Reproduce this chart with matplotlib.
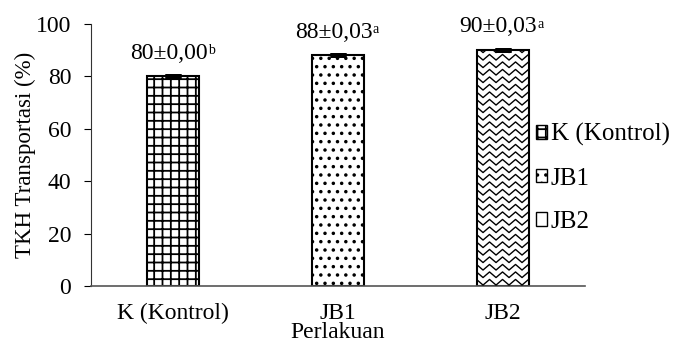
import numpy as np
import matplotlib
matplotlib.use("Agg")
import matplotlib.pyplot as plt

plt.rcParams['font.family'] = ['Liberation Serif', 'DejaVu Serif']
plt.rcParams['hatch.linewidth'] = 1.3

perlakuan = ['K (Kontrol)', 'JB1', 'JB2']
tkh = [80, 88, 90]
sd = [0.00, 0.03, 0.03]
notasi = ['b', 'a', 'a']
label_teks = ['80±0,00', '88±0,03', '90±0,03']
pola = ['++', '..', '']

fig = plt.figure(figsize=(6.77, 3.49), dpi=100)
ax = fig.add_axes([0.134, 0.1805, 0.73, 0.752])

x = np.arange(len(perlakuan))
bars = ax.bar(x, tkh, width=0.316, color='white', edgecolor='black',
              linewidth=1.5, zorder=2)
for b, h, lab in zip(bars, pola, perlakuan):
    b.set_hatch(h)
    b.set_label(lab)

ax.errorbar(x, tkh, yerr=sd, fmt='none', ecolor='black', capsize=6,
            capthick=3.5, elinewidth=1, zorder=4)

ax.set_xlim(-0.5, 2.5)
ax.set_ylim(0, 100)
ax.set_yticks([0, 20, 40, 60, 80, 100])

# zigzag fill for JB2 (no built-in wave hatch)
fig.canvas.draw()
inv = ax.transData.inverted()
p0 = inv.transform((0, 0))
p1 = inv.transform((1, 1))
dxpx = p1[0] - p0[0]
dypx = p1[1] - p0[1]
b = bars[2]
x0, x1 = b.get_x(), b.get_x() + b.get_width()
period = 13 * dxpx
amp = 2.8 * dypx
row = 7.5 * dypx
xs = np.arange(x0 - period, x1 + period, period / 2)
for yy in np.arange(row / 2, b.get_height() + row, row):
    ys = yy + amp * np.where(np.arange(len(xs)) % 2 == 0, 1, -1)
    ln, = ax.plot(xs, ys, color='black', lw=1.0, zorder=3)
    ln.set_clip_path(b)

# value labels with small superscript letter
for xi, v, t, n in zip(x, tkh, label_teks, notasi):
    utama = ax.annotate(t, (xi, v), xytext=(-3, 9), textcoords='offset points',
                        ha='center', va='bottom', fontsize=17)
    ax.annotate(n, xy=(1, 0.92), xycoords=utama, xytext=(0.2, 0),
                textcoords='offset points', ha='left', va='top', fontsize=10)

ax.spines['top'].set_visible(False)
ax.spines['right'].set_visible(False)
ax.spines['bottom'].set_color('#555555')
ax.spines['bottom'].set_linewidth(1.2)
ax.spines['left'].set_color('#333333')
ax.tick_params(axis='x', length=0, labelsize=17, pad=12)
ax.tick_params(axis='y', direction='out', length=5, labelsize=17, pad=9)
ax.set_xticks(x)
ax.set_xticklabels(perlakuan)
ax.set_xlabel('Perlakuan', fontsize=17, labelpad=-1)
ax.set_ylabel('TKH Transportasi (%)', fontsize=16.5, labelpad=0)

lgd = ax.legend(handles=list(bars), loc='center left', bbox_to_anchor=(0.791, 0.49),
                bbox_transform=fig.transFigure,
                frameon=False, fontsize=18, handlelength=0.45, handleheight=0.45,
                handletextpad=0.15, labelspacing=0.85, borderaxespad=0, borderpad=0)
for hnd in lgd.legend_handles:
    hnd.set_linewidth(1.0)

fig.savefig('out.png', dpi=100)
